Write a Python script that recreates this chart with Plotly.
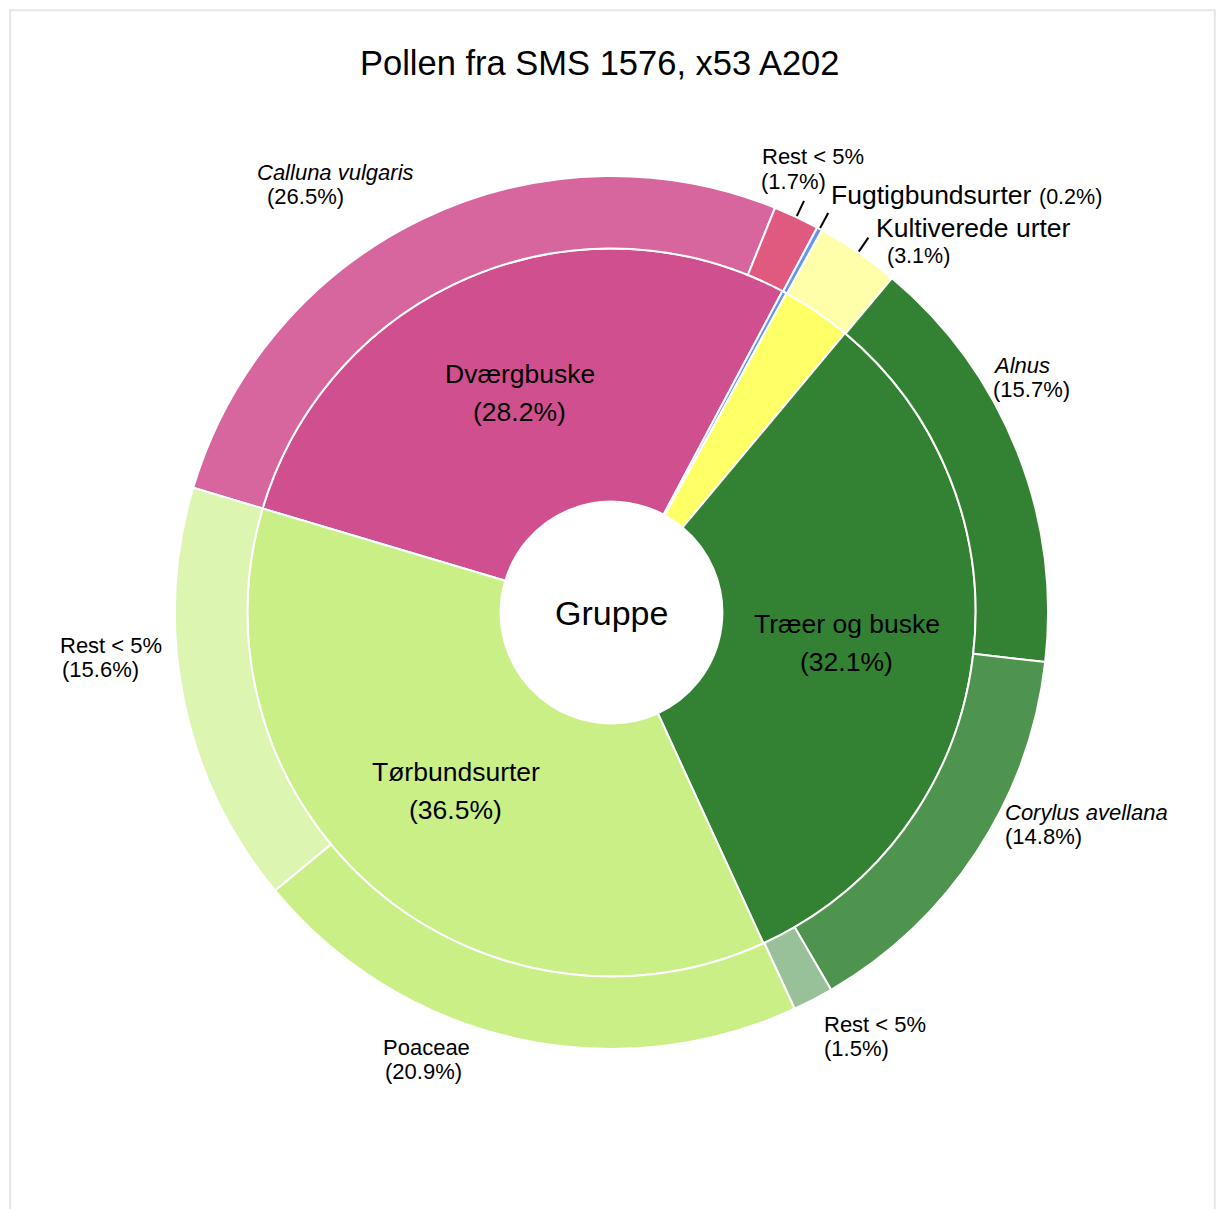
import math
import plotly.graph_objects as go

# ---------------- data ----------------
TITLE = "Pollen fra SMS 1576, x53 A202"
CENTER_TEXT = "Gruppe"

groups = ["Dværgbuske", "Fugtigbundsurter", "Kultiverede urter", "Træer og buske", "Tørbundsurter"]
group_pct = [28.2, 0.2, 3.1, 32.1, 36.5]

taxa = ["Calluna vulgaris", "Rest < 5%", "Fugtigbundsurter", "Kultiverede urter",
        "Alnus", "Corylus avellana", "Rest < 5%", "Poaceae", "Rest < 5%"]
taxa_group = ["Dværgbuske", "Dværgbuske", "Fugtigbundsurter", "Kultiverede urter",
              "Træer og buske", "Træer og buske", "Træer og buske", "Tørbundsurter", "Tørbundsurter"]
taxa_pct = [26.5, 1.7, 0.2, 3.1, 15.7, 14.8, 1.5, 20.9, 15.6]

# ---------------- styles ----------------
FONT = "Liberation Sans, Arial, Helvetica, sans-serif"
group_colors = ["#d0508f", "#6495ed", "#ffff66", "#338233", "#cbef87"]
taxa_colors = ["#d7669e", "#e05a80", "#6495ed", "#ffffaa",
               "#338233", "#4e934e", "#99c199", "#cbef87", "#dcf5b0"]
taxa_italic = [True, False, False, False, True, True, False, False, False]
taxa_leader = [False, True, True, True, False, False, False, False, False]
# label layout (pixel): left x / centre y of name line, left x / centre y of percent line, font sizes
label_layout = [
    (258, 172, 268, 196, 22, 22),
    (763, 156, 762, 181, 22, 22),
    (832, 195, 1040, 197, 26.5, 21.5),
    (877, 228, 888, 256, 26.5, 21.5),
    (994, 365, 994, 389, 22, 22),
    (1006, 813, 1006, 837, 22, 22),
    (825, 1025, 825, 1049, 22, 22),
    (384, 1048, 386, 1072, 22, 22),
    (60, 646, 62, 670, 22, 22),
]

W, H = 1216, 1209
CX, CY = 611.5, 612.5
R_OUT = 437.0
R_MID = 364.5
R_HOLE = 111.0
START = 163.4          # math angle (deg) where the first slice starts; slices go clockwise
ROT = 90 - START       # plotly rotation

ml = CX - R_OUT
mt = CY - R_OUT
SIZE = 2 * R_OUT
mr = W - ml - SIZE
mb = H - mt - SIZE


def px(x):
    return (x - ml) / SIZE


def py(y):
    return (mt + SIZE - y) / SIZE


def mid_angles(vals):
    tot = sum(vals)
    out, cum = [], 0.0
    for v in vals:
        out.append(START - (cum + v / 2) / tot * 360)
        cum += v
    return out


fig = go.Figure()

frac_mid = R_MID / SIZE
fig.add_trace(go.Pie(
    values=group_pct, labels=groups, sort=False, direction="clockwise", rotation=ROT,
    hole=R_HOLE / R_MID, textinfo="none", showlegend=False,
    marker=dict(colors=group_colors, line=dict(color="white", width=2)),
    domain=dict(x=[0.5 - frac_mid, 0.5 + frac_mid], y=[0.5 - frac_mid, 0.5 + frac_mid]),
))
fig.add_trace(go.Pie(
    values=taxa_pct, labels=[f"{g}: {t} #{i}" for i, (g, t) in enumerate(zip(taxa_group, taxa))],
    sort=False, direction="clockwise", rotation=ROT,
    hole=R_MID / R_OUT, textinfo="none", showlegend=False,
    marker=dict(colors=taxa_colors, line=dict(color="white", width=2)),
    domain=dict(x=[0, 1], y=[0, 1]),
))

ann = []
shapes = []

# inner labels at the middle of the inner ring
r_lab = (R_HOLE + R_MID) / 2
for g, p, a in zip(groups, group_pct, mid_angles(group_pct)):
    if p < 5:
        continue
    x = CX + r_lab * math.cos(math.radians(a))
    y = CY - r_lab * math.sin(math.radians(a))
    ann.append(dict(x=px(x), y=py(y - 19.5), text=g, font=dict(size=26.5, family=FONT, color="black")))
    ann.append(dict(x=px(x), y=py(y + 18.5), text=f"({p:.1f}%)", font=dict(size=26.5, family=FONT, color="black")))

# outer labels
for t, p, it, lead, a, lay in zip(taxa, taxa_pct, taxa_italic, taxa_leader, mid_angles(taxa_pct), label_layout):
    x1, y1, x2, y2, s1, s2 = lay
    name = f"<i>{t}</i>" if it else t
    ann.append(dict(x=px(x1 - 3), y=py(y1), text=name, xanchor="left",
                    font=dict(size=s1, family=FONT, color="black")))
    ann.append(dict(x=px(x2 - 3), y=py(y2), text=f"({p:.1f}%)", xanchor="left",
                    font=dict(size=s2, family=FONT, color="black")))
    if lead:
        c, s = math.cos(math.radians(a)), math.sin(math.radians(a))
        r0, r1 = R_OUT + 1, R_OUT + 18
        shapes.append(dict(type="line", xref="paper", yref="paper",
                           x0=px(CX + r0 * c), y0=py(CY - r0 * s),
                           x1=px(CX + r1 * c), y1=py(CY - r1 * s),
                           line=dict(color="black", width=2)))

# centre text and title
ann.append(dict(x=0.5, y=py(613), text=CENTER_TEXT, font=dict(size=34, family=FONT, color="black")))
ann.append(dict(x=px(599), y=py(62), text=TITLE, font=dict(size=34.5, family=FONT, color="black")))

for a_ in ann:
    a_.update(xref="paper", yref="paper", showarrow=False, yanchor="middle")
    a_.setdefault("xanchor", "center")

# light frame
shapes.append(dict(type="rect", xref="paper", yref="paper",
                   x0=px(9.5), x1=px(1215.5), y0=py(1230), y1=py(9.5),
                   line=dict(color="#e6e6e6", width=2), fillcolor="rgba(0,0,0,0)", layer="below"))

fig.update_layout(
    width=W, height=H, autosize=False,
    margin=dict(l=ml, r=mr, t=mt, b=mb, pad=0, autoexpand=False),
    paper_bgcolor="white", plot_bgcolor="white",
    annotations=ann, shapes=shapes, showlegend=False,
    font=dict(family=FONT),
)

fig.write_html("out.html", config={"displayModeBar": False})
